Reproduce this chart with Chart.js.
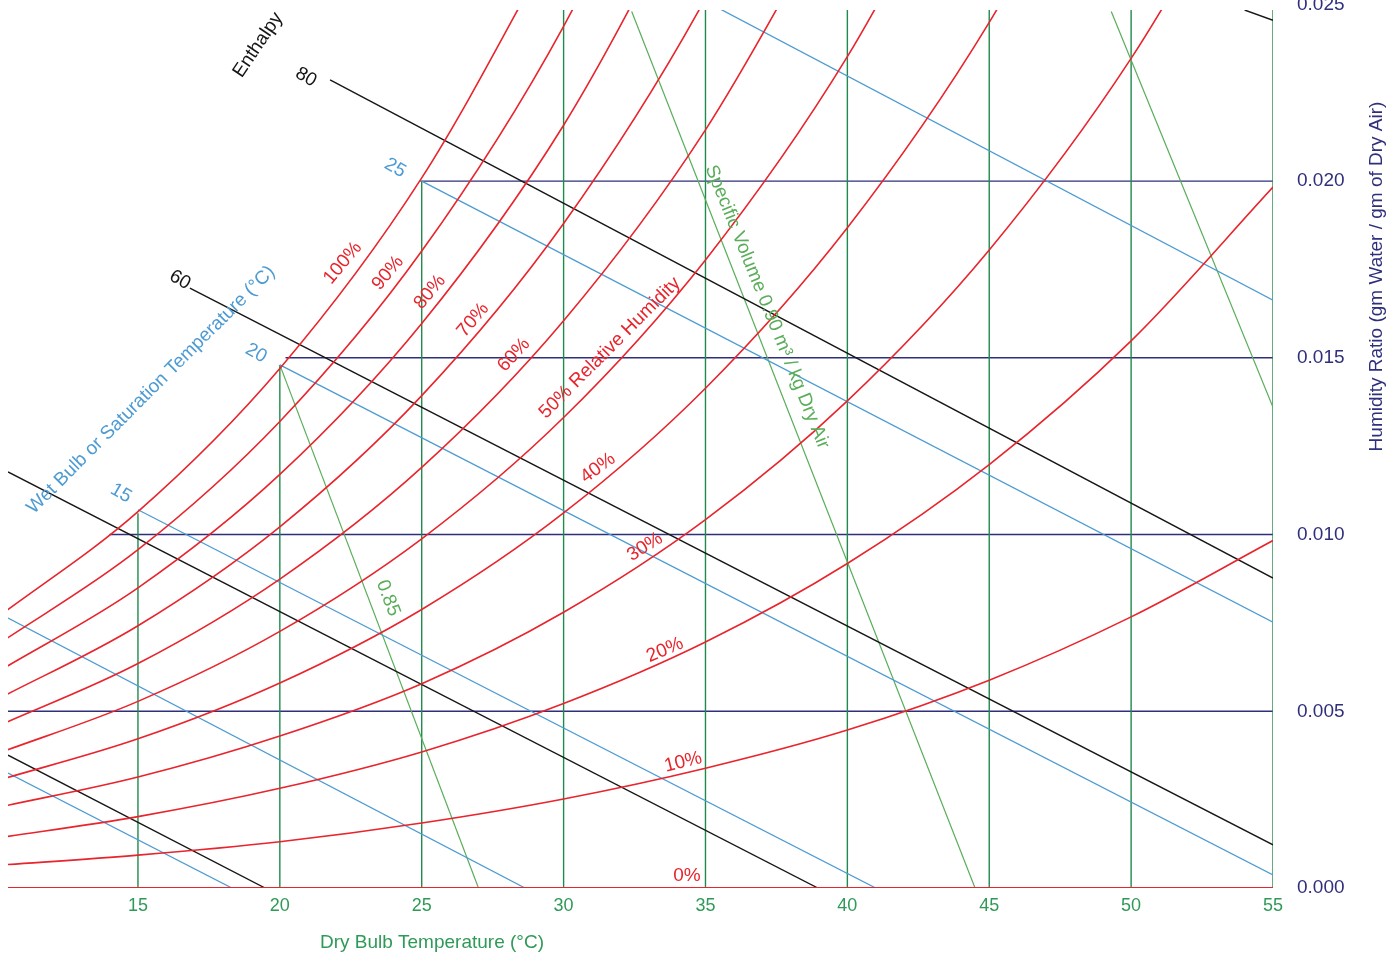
<!DOCTYPE html>
<html>
<head>
<meta charset="utf-8">
<title>Psychrometric Chart</title>
<script src="https://cdn.jsdelivr.net/npm/chart.js@4.4.0/dist/chart.umd.min.js"></script>
<style>
  html, body { margin: 0; padding: 0; background: #fff; }
  #wrap { width: 1399px; height: 956px; position: relative; }
</style>
</head>
<body>
<div id="wrap"><canvas id="psyChart"></canvas></div>
<script>
// dry bulb temperatures (ºC) at which the RH curves were read
const dryBulb = [10, 15, 20, 25, 30, 35, 40, 45, 50, 55];

// humidity ratio (kg/kg) of each relative humidity curve, null = off the chart
const rh100 = [0.00763, 0.01065, 0.01470, 0.02009, 0.02721, null, null, null, null, null];
const rh90  = [0.00686, 0.00957, 0.01320, 0.01802, 0.02438, 0.03273, null, null, null, null];
const rh80  = [0.00609, 0.00849, 0.01170, 0.01597, 0.02158, 0.02893, null, null, null, null];
const rh70  = [0.00532, 0.00742, 0.01022, 0.01393, 0.01880, 0.02517, 0.03344, null, null, null];
const rh60  = [0.00456, 0.00635, 0.00874, 0.01190, 0.01605, 0.02145, 0.02844, null, null, null];
const rh50  = [0.00379, 0.00528, 0.00726, 0.00988, 0.01331, 0.01777, 0.02352, 0.03091, null, null];
const rh40  = [0.00303, 0.00422, 0.00580, 0.00788, 0.01061, 0.01414, 0.01868, 0.02449, 0.03188, null];
const rh30  = [0.00227, 0.00314, 0.00430, 0.00578, 0.00780, 0.01042, 0.01378, 0.01805, 0.02347, 0.03030];
const rh20  = [0.00141, 0.00202, 0.00282, 0.00385, 0.00522, 0.00696, 0.00918, 0.01198, 0.01548, 0.01983];
const rh10  = [0.00064, 0.00093, 0.00131, 0.00184, 0.00252, 0.00339, 0.00447, 0.00588, 0.00767, 0.00983];
const rh0   = [0, 0, 0, 0, 0, 0, 0, 0, 0, 0];
const rhCurves = [rh100, rh90, rh80, rh70, rh60, rh50, rh40, rh30, rh20, rh10, rh0];

// axis ticks (0.025 sits just above the plot and is cut by the page edge)
const xTicks = [15, 20, 25, 30, 35, 40, 45, 50, 55];
const yTicks = [0, 0.005, 0.010, 0.015, 0.020];
const yTopTick = 0.025;

// grid lines stop at the saturation curve
const gridX = [15, 20, 25, 30, 35, 40, 45, 50, 55];
const gridXTop = [0.0106, 0.0148, 0.0200, 0.025, 0.025, 0.025, 0.025, 0.025, 0.025];
const gridY = [0.005, 0.010, 0.015, 0.020];
const gridYStart = [10, 14.0, 20.2, 24.95];

// wet bulb lines: start on saturation (or the left edge), end on bottom or right edge [T, W]
const wetBulb = [5, 10, 15, 20, 25, 30];
const wetBulbStart = [[10.42, 0.00325], [10.42, 0.00764], [15, 0.0107], [20, 0.0148], [25, 0.0200], [30, 0.0272]];
const wetBulbEnd = [[18.31, 0], [28.64, 0], [41.0, 0], [55, 0.00037], [55, 0.00752], [55, 0.01663]];

// enthalpy lines [T, W]
const enthalpy = [20, 40, 60, 80, 120];
const enthalpyStart = [[10.42, 0.00376], [10.42, 0.01177], [16.83, 0.01697], [21.77, 0.02286], [54.0, 0.02484]];
const enthalpyEnd = [[19.48, 0], [38.96, 0], [55, 0.00122], [55, 0.00877], [55, 0.02455]];

// specific volume lines [T, W]
const specVolume = [0.85, 0.90, 0.95];
const specVolumeStart = [[20, 0.0148], [32.4, 0.0248], [49.3, 0.0248]];
const specVolumeEnd = [[27.0, 0], [44.5, 0], [55, 0.0136]];

const RED = '#e8242c';
const BLUE = '#4d9bd2';
const BLACK = '#161616';
const GRID_GREEN = '#1f8a4c';
const VOL_GREEN = '#5aad5a';
const TICK_GREEN = '#2f9a57';
const NAVY = '#2f2f7c';
const FONT = '"Liberation Sans", Arial, Helvetica, sans-serif';

function seg(p0, p1) {
    return [{ x: p0[0], y: p0[1] }, { x: p1[0], y: p1[1] }];
}

function lineSet(data, color, width, extra) {
    return Object.assign({
        data: data,
        showLine: true,
        borderColor: color,
        borderWidth: width,
        pointRadius: 0,
        tension: 0,
        fill: false
    }, extra || {});
}

const datasets = [];

// relative humidity curves
rhCurves.forEach(function(curve) {
    const pts = [];
    dryBulb.forEach(function(t, i) {
        if (curve[i] !== null) pts.push({ x: t, y: curve[i] });
    });
    datasets.push(lineSet(pts, RED, curve === rh0 ? 2.2 : 1.6, {
        cubicInterpolationMode: 'monotone',
        capBezierPoints: false,
        order: 1
    }));
});

enthalpy.forEach(function(h, i) {
    datasets.push(lineSet(seg(enthalpyStart[i], enthalpyEnd[i]), BLACK, 1.4, { order: 2 }));
});

wetBulb.forEach(function(w, i) {
    datasets.push(lineSet(seg(wetBulbStart[i], wetBulbEnd[i]), BLUE, 1.3, { order: 3 }));
});

specVolume.forEach(function(v, i) {
    datasets.push(lineSet(seg(specVolumeStart[i], specVolumeEnd[i]), VOL_GREEN, 1.2, { order: 4 }));
});

gridX.forEach(function(t, i) {
    datasets.push(lineSet(seg([t, 0], [t, gridXTop[i]]), GRID_GREEN, 1.4, { order: 5 }));
});

gridY.forEach(function(w, i) {
    datasets.push(lineSet(seg([gridYStart[i], w], [55, w]), NAVY, 1.4, { order: 5 }));
});

// text placed along the lines: [text, T, W, angle, color, size]
const chartLabels = [
    ['Enthalpy', 19.23, 0.02385, -56, BLACK, 19],
    ['80', 20.92, 0.02294, 30, BLACK, 19],
    ['60', 16.48, 0.01720, 30, BLACK, 19],
    ['25', 24.06, 0.02037, 30, BLUE, 19],
    ['20', 19.16, 0.01513, 30, BLUE, 19],
    ['15', 14.40, 0.01117, 30, BLUE, 19],
    ['Wet Bulb or Saturation Temperature (\u00b0C)', 15.46, 0.01409, -45, BLUE, 19],
    ['100%', 22.22, 0.01768, -50, RED, 19],
    ['90%', 23.81, 0.01740, -50, RED, 19],
    ['80%', 25.29, 0.01686, -50, RED, 19],
    ['70%', 26.81, 0.01607, -50, RED, 19],
    ['60%', 28.25, 0.01508, -48, RED, 19],
    ['50% Relative Humidity', 31.63, 0.01528, -45, RED, 19],
    ['40%', 31.21, 0.01188, -36, RED, 19],
    ['30%', 32.87, 0.00965, -32, RED, 19],
    ['20%', 33.57, 0.00673, -23, RED, 19],
    ['10%', 34.21, 0.00356, -14, RED, 19],
    ['0%', 34.35, 0.00034, 0, RED, 19],
    ['0.85', 23.81, 0.00820, 69, VOL_GREEN, 19],
    ['Specific Volume 0.90 m\u00b3 / kg Dry Air', 37.17, 0.01644, 68, VOL_GREEN, 19]
];

function drawText(ctx, text, px, py, angle, color, size, align) {
    ctx.save();
    ctx.translate(px, py);
    ctx.rotate(angle * Math.PI / 180);
    ctx.fillStyle = color;
    ctx.font = size + 'px ' + FONT;
    ctx.textAlign = align || 'center';
    ctx.textBaseline = 'middle';
    ctx.fillText(text, 0, 0);
    ctx.restore();
}

const labelPlugin = {
    id: 'psyLabels',
    afterDraw: function(chart) {
        const ctx = chart.ctx;
        const xs = chart.scales.x;
        const ys = chart.scales.y;
        chartLabels.forEach(function(l) {
            drawText(ctx, l[0], xs.getPixelForValue(l[1]), ys.getPixelForValue(l[2]), l[3], l[4], l[5]);
        });
        // top tick label, cut off by the top of the page
        drawText(ctx, yTopTick.toFixed(3), chart.chartArea.right + 24, ys.getPixelForValue(yTopTick), 0, NAVY, 19, 'left');
        // axis titles
        drawText(ctx, 'Dry Bulb Temperature (\u00b0C)', xs.getPixelForValue(25.36), chart.height - 13, 0, TICK_GREEN, 19);
        drawText(ctx, 'Humidity Ratio (gm Water / gm of Dry Air)', chart.width - 22, ys.getPixelForValue(0.0173), -90, NAVY, 19);
    }
};

const psyChart = new Chart(document.getElementById('psyChart').getContext('2d'), {
    type: 'scatter',
    data: { datasets: datasets },
    options: {
        responsive: true,
        maintainAspectRatio: false,
        animation: false,
        devicePixelRatio: 1,
        layout: { padding: { left: 8, top: 10, right: 0, bottom: 0 } },
        plugins: {
            legend: { display: false },
            tooltip: { enabled: false }
        },
        scales: {
            x: {
                type: 'linear',
                position: 'bottom',
                min: 10.42,
                max: 55,
                grid: { display: false, drawTicks: false },
                border: { display: false },
                afterBuildTicks: function(scale) {
                    scale.ticks = xTicks.map(function(v) { return { value: v }; });
                },
                afterFit: function(scale) { scale.height = 68; },
                ticks: {
                    autoSkip: false,
                    maxRotation: 0,
                    padding: 7,
                    color: TICK_GREEN,
                    font: { family: FONT, size: 18 },
                    callback: function(v) { return v; }
                }
            },
            y: {
                type: 'linear',
                position: 'right',
                min: 0,
                max: 0.02484,
                // tick marks hidden, their length only pushes the labels right
                grid: { display: false, drawTicks: true, tickLength: 24 },
                border: { display: false },
                afterBuildTicks: function(scale) {
                    scale.ticks = yTicks.map(function(v) { return { value: v }; });
                },
                afterFit: function(scale) { scale.width = 126; },
                ticks: {
                    autoSkip: false,
                    padding: 0,
                    color: NAVY,
                    font: { family: FONT, size: 19, lineHeight: 1 },
                    callback: function(v) { return v.toFixed(3); }
                }
            }
        }
    },
    plugins: [labelPlugin]
});
</script>
</body>
</html>
